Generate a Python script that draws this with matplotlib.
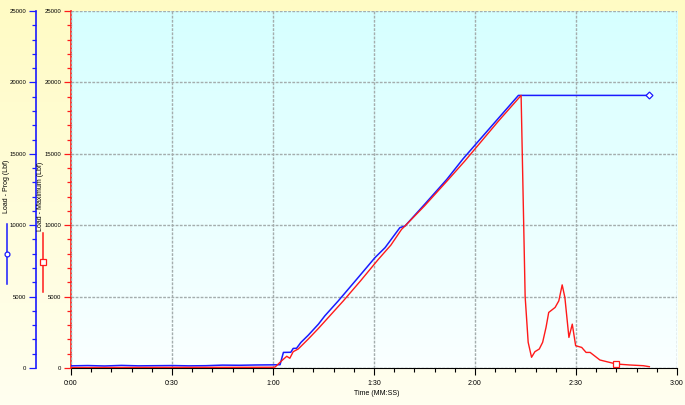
import numpy as np
import matplotlib
matplotlib.use('Agg')
import matplotlib.pyplot as plt
from matplotlib.ticker import MultipleLocator, FuncFormatter
from matplotlib.lines import Line2D

# Datos: Load - Prog (Lbf)
prog_t = [0, 5, 10, 15, 20, 25, 30, 35, 40, 45, 50, 55, 60, 62.1, 63.1, 65.3, 66.0, 67.0,
          68.3, 70.5, 73.5, 75.4, 79.4, 85, 90.3, 93.3, 97.7, 99.2, 105, 111.6, 116.5,
          122, 127, 132.9, 171.7]
prog_v = [150, 170, 140, 180, 150, 160, 170, 150, 160, 200, 190, 210, 220, 230, 1090, 1100,
          1370, 1380, 1790, 2300, 3070, 3650, 4700, 6250, 7730, 8430, 9830, 9940, 11450,
          13200, 14660, 16150, 17500, 19090, 19090]

# Datos: Load - Maximum (Lbf)
max_t = [0, 30, 60, 60.6, 62.6, 64.1, 65.0, 66.0, 67.5, 70.5, 73.5, 80.9, 86, 91.3, 95,
         98.2, 99.2, 105, 112.1, 117, 122, 127, 133.7, 134.9, 135.8, 136.8, 137.8, 139.1,
         140.1, 141.1, 141.9, 143.8, 144.9, 145.9, 146.7, 147.9, 148.9, 149.9, 151.7,
         153.0, 154.2, 157.1, 161.9, 166.0, 170.0, 171.8]
max_v = [30, 40, 50, 60, 510, 820, 680, 1140, 1330, 2030, 2770, 4700, 6100, 7610, 8600,
         9710, 9940, 11350, 13200, 14500, 15900, 17300, 19090, 5000, 1800, 750, 1140, 1330,
         1800, 2840, 3890, 4240, 4700, 5820, 4940, 2140, 3070, 1560, 1440, 1090, 1090,
         560, 280, 210, 160, 90]

plt.rcParams['font.family'] = ['Liberation Sans', 'DejaVu Sans']
fs = 5
fsy = 4.3

fig = plt.figure(figsize=(6.85, 4.05), dpi=100)

# Fondo de la figura (degradado amarillo)
bg = fig.add_axes([0, 0, 1, 1], zorder=-10)
g = np.linspace(0, 1, 256).reshape(-1, 1)
top = np.array([255, 251, 196]) / 255
bot = np.array([255, 255, 240]) / 255
img = top * (1 - g[..., None]) + bot * g[..., None]
bg.imshow(img, aspect='auto', extent=[0, 1, 0, 1])
bg.axis('off')

ax = fig.add_axes([0.1036, 0.0914, 0.8847, 0.8814])
ax.set_zorder(1)
ctop = np.array([214, 255, 255]) / 255
cbot = np.array([250, 255, 255]) / 255
img2 = ctop * (1 - g[..., None]) + cbot * g[..., None]
ax.imshow(img2, aspect='auto', extent=[0, 1, 0, 1], transform=ax.transAxes, zorder=0)

ax.plot(prog_t, prog_v, color='#1a1aff', lw=1.1, zorder=4, marker='D', ms=3.5,
        mfc='white', mec='#1a1aff', mew=0.9, markevery=[len(prog_t) - 1])
sq = max_t.index(161.9)
ax.plot(max_t, max_v, color='#ff1a1a', lw=1.0, zorder=5, marker='s', ms=4,
        mfc='white', mec='#ff1a1a', mew=0.9, markevery=[sq])

ax.set_xlim(0, 180)
ax.set_ylim(0, 25000)
ax.xaxis.set_major_locator(MultipleLocator(30))
ax.xaxis.set_minor_locator(MultipleLocator(6))
ax.xaxis.set_major_formatter(FuncFormatter(lambda v, p: '%d:%02d' % (int(v) // 60, int(v) % 60)))
ax.yaxis.set_major_locator(MultipleLocator(5000))
ax.yaxis.set_minor_locator(MultipleLocator(1000))
ax.grid(True, which='major', color='#a4adad', lw=1.0, linestyle=(0, (2, 1)), zorder=1)
ax.set_axisbelow(False)
for s in ['top', 'right']:
    ax.spines[s].set_visible(False)
ax.spines['bottom'].set_color('black')
ax.spines['left'].set_color('#ff1a1a')
ax.spines['left'].set_linewidth(1.2)
ax.tick_params(axis='x', which='major', length=5, width=0.8, labelsize=fs, pad=4)
ax.tick_params(axis='x', which='minor', length=3, width=0.8)
ax.tick_params(axis='y', which='both', colors='#ff1a1a', labelcolor='black', labelsize=fsy)
ax.tick_params(axis='y', which='major', length=5, width=0.9, pad=2)
ax.tick_params(axis='y', which='minor', length=3, width=0.9)
ax.set_xlabel('Time (MM:SS)', fontsize=fs)
ax.xaxis.set_label_coords(0.5038, -0.062)

# Eje azul (Load - Prog), 35 px a la izquierda del eje rojo
ax2 = fig.add_axes([0.1036, 0.0914, 0.8847, 0.8814], zorder=0)
ax2.set_facecolor('none')
ax2.set_ylim(0, 25000)
ax2.set_xticks([])
for s in ['top', 'right', 'bottom']:
    ax2.spines[s].set_visible(False)
ax2.spines['left'].set_position(('outward', 35 * 72 / 100))
ax2.spines['left'].set_color('#1a1aff')
ax2.spines['left'].set_linewidth(1.2)
ax2.yaxis.set_major_locator(MultipleLocator(5000))
ax2.yaxis.set_minor_locator(MultipleLocator(1000))
ax2.tick_params(axis='y', which='both', colors='#1a1aff', labelcolor='black', labelsize=fsy)
ax2.tick_params(axis='y', which='major', length=5, width=0.9, pad=2)
ax2.tick_params(axis='y', which='minor', length=3, width=0.9)

# Leyendas verticales a la izquierda
fig.text(7 / 685, 1 - 186 / 405, 'Load - Prog (Lbf)', rotation=90, fontsize=fs,
         ha='center', va='center')
fig.add_artist(Line2D([7 / 685, 7 / 685], [1 - 224 / 405, 1 - 284 / 405],
                      color='#1a1aff', lw=1.1, transform=fig.transFigure))
fig.add_artist(Line2D([7 / 685], [1 - 254 / 405], marker='o', ms=3.5, mfc='white',
                      mec='#1a1aff', mew=0.9, transform=fig.transFigure))
fig.text(41 / 685, 1 - 196 / 405, 'Load - Maximum (Lbf)', rotation=90, fontsize=fs,
         ha='center', va='center')
fig.add_artist(Line2D([43 / 685, 43 / 685], [1 - 233 / 405, 1 - 292 / 405],
                      color='#ff1a1a', lw=1.1, transform=fig.transFigure))
fig.add_artist(Line2D([43 / 685], [1 - 262 / 405], marker='s', ms=4.5, mfc='white',
                      mec='#ff1a1a', mew=0.9, transform=fig.transFigure))

fig.savefig('out.png', dpi=100)
